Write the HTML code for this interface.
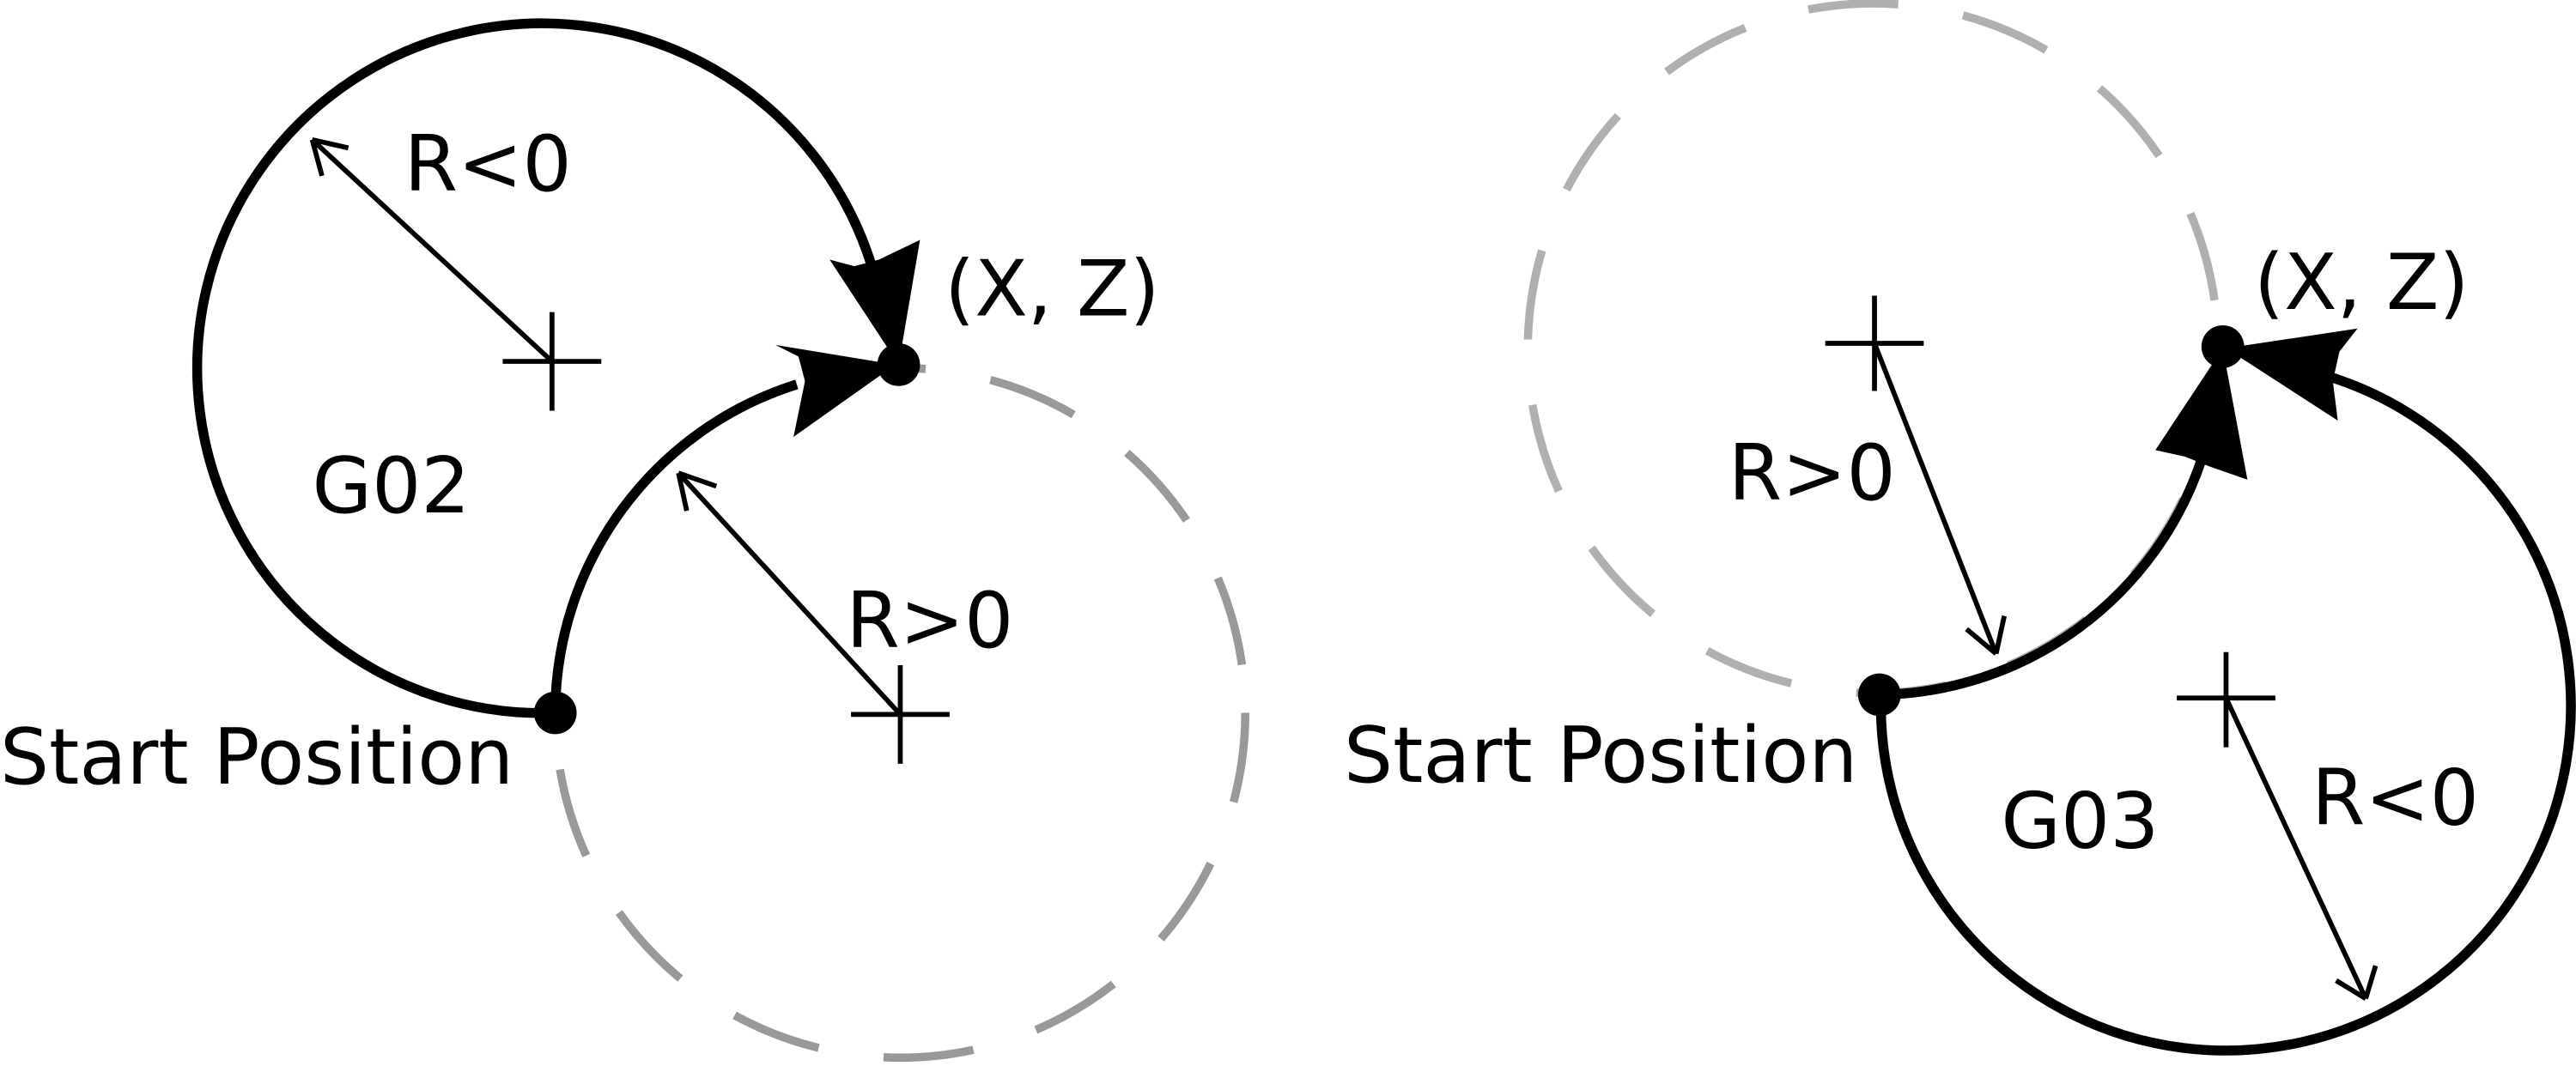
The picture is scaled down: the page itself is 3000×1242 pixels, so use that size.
<!DOCTYPE html>
<html><head><meta charset="utf-8"><style>html,body{margin:0;padding:0;background:#fff}svg{display:block}</style></head>
<body>
<svg width="3000" height="1242" viewBox="0 0 1568 649" xmlns="http://www.w3.org/2000/svg" font-family="'DejaVu Sans','Liberation Sans',sans-serif" font-size="47">
<!-- dashed circles -->
<circle cx="548" cy="434" r="210" fill="none" stroke="#999" stroke-width="5" stroke-dasharray="55 40"/>
<circle cx="1140" cy="212" r="210" fill="none" stroke="#b0b0b0" stroke-width="5" stroke-dasharray="55 40"/>
<!-- left arcs -->
<path d="M338 434 A210 210 0 1 1 530 160" fill="none" stroke="#000" stroke-width="6"/>
<path d="M338 434 A210 210 0 0 1 485 234" fill="none" stroke="#000" stroke-width="6"/>
<polygon points="547,222 505,158 520,162 535,158 560,146" fill="#000"/>
<polygon points="545,222 472,210 486,217 490,232 483,266" fill="#000"/>
<!-- right arcs -->
<path d="M1145 423 A210 210 0 0 0 1340 280" fill="none" stroke="#000" stroke-width="6"/>
<path d="M1420 230 A210 210 0 1 1 1145 423" fill="none" stroke="#000" stroke-width="6"/>
<polygon points="1353,212 1312,274 1330,278 1345,284 1368,292" fill="#000"/>
<polygon points="1355,212 1435,200 1424,214 1420,232 1423,256" fill="#000"/>
<!-- crosses -->
<g stroke="#000" stroke-width="3">
<path d="M306 220 H366 M336 190 V250"/>
<path d="M518 435 H578 M548 405 V465"/>
<path d="M1111 209 H1171 M1141 180 V238"/>
<path d="M1325 425 H1385 M1355 397 V455"/>
<path d="M336 220 L190 85"/><path d="M190 85 L212 90 M190 85 L196 107"/>
<path d="M548 435 L413 288"/><path d="M413 288 L436 296 M413 288 L418 311"/>
<path d="M1141 209 L1215 398"/><path d="M1215 398 L1197 383 M1215 398 L1220 375"/>
<path d="M1355 425 L1440 608"/><path d="M1440 608 L1422 597 M1440 608 L1446 588"/>
</g>
<circle cx="338" cy="434" r="13" fill="#000"/>
<circle cx="547" cy="222" r="13" fill="#000"/>
<circle cx="1144" cy="423" r="13" fill="#000"/>
<circle cx="1353" cy="211" r="13" fill="#000"/>
<text x="246" y="116">R&lt;0</text>
<text x="190" y="312">G02</text>
<text x="515" y="394">R&gt;0</text>
<text x="575" y="192">(X, Z)</text>
<text x="0" y="477">Start Position</text>
<text x="1052" y="304">R&gt;0</text>
<text x="1372" y="188">(X, Z)</text>
<text x="818" y="476">Start Position</text>
<text x="1218" y="516">G03</text>
<text x="1407" y="502">R&lt;0</text>
</svg>
</body></html>
